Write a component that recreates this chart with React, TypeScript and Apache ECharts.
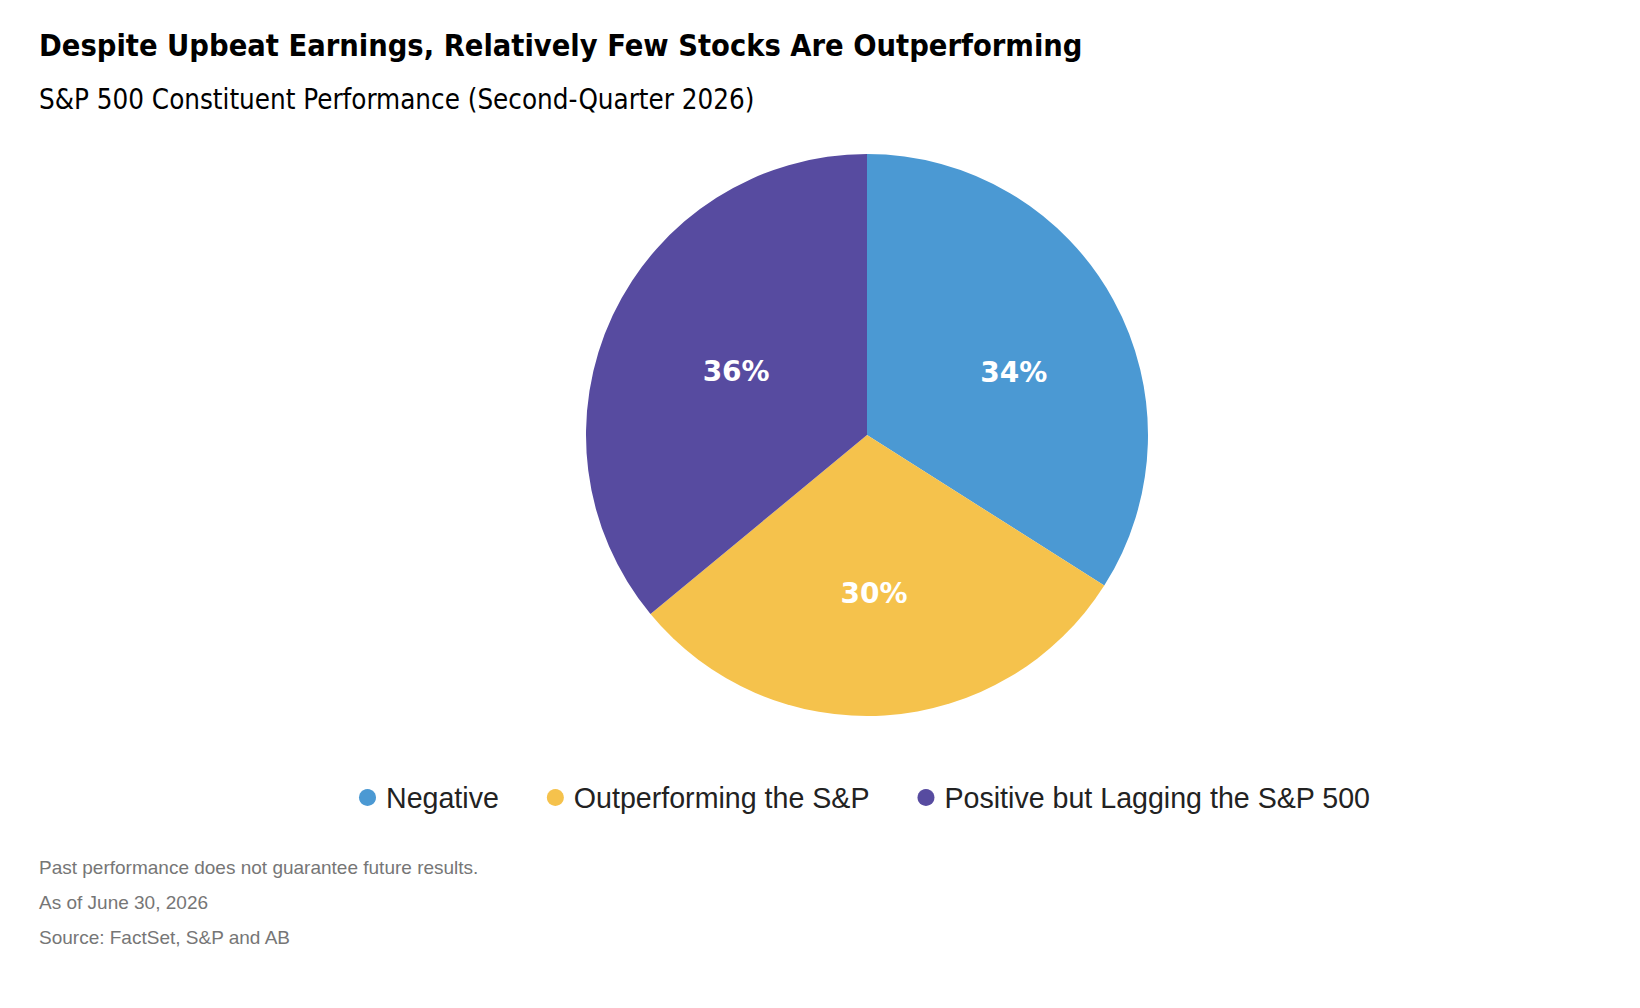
import React, { useEffect, useRef } from "react";
import * as echarts from "echarts";

const categories = ["Negative", "Outperforming the S&P", "Positive but Lagging the S&P 500"];
const values = [34, 30, 36];
const colors = ["#4B99D3", "#F5C24C", "#574BA0"];
const labelOffsets = [[21, 7], [-2, 15], [-1, -2]];
const footnotes = [
  "Past performance does not guarantee future results.",
  "As of June 30, 2026",
  "Source: FactSet, S&P and AB",
];

export default function App() {
  const ref = useRef<HTMLDivElement>(null);
  useEffect(() => {
    document.body.style.margin = "0";
    const chart = echarts.init(ref.current!, null, { renderer: "svg" });
    chart.setOption({
      animation: false,
      backgroundColor: "#ffffff",
      title: [
        {
          text: "Despite Upbeat Earnings, Relatively Few Stocks Are Outperforming",
          left: 34,
          top: 25,
          textStyle: {
            fontFamily: "DejaVu Sans Condensed",
            fontWeight: "bold",
            fontSize: 30.5,
            color: "#000000",
          },
        },
        {
          text: "S&P 500 Constituent Performance (Second-Quarter 2026)",
          left: 34,
          top: 80,
          textStyle: {
            fontFamily: "DejaVu Sans Condensed",
            fontWeight: "normal",
            fontSize: 27.5,
            color: "#000000",
          },
        },
      ],
      legend: {
        data: categories,
        left: 359,
        top: 783,
        padding: 0,
        icon: "circle",
        itemWidth: 17,
        itemHeight: 17,
        itemGap: 48,
        textStyle: {
          fontFamily: "Liberation Sans",
          fontSize: 28.6,
          color: "#222222",
          padding: [0, 0, 0, 5],
        },
      },
      graphic: footnotes.map((t, i) => ({
        type: "text",
        left: 39,
        top: 858 + i * 35,
        style: {
          text: t,
          fontFamily: "Liberation Sans",
          fontSize: 19,
          fill: "#767676",
        },
      })),
      series: [
        {
          type: "pie",
          center: [867, 435],
          radius: [0, 281],
          startAngle: 90,
          clockwise: true,
          data: categories.map((c, i) => ({
            name: c,
            value: values[i],
            itemStyle: { color: colors[i] },
            label: { offset: labelOffsets[i] },
          })),
          label: {
            position: "inside",
            formatter: "{c}%",
            color: "#ffffff",
            fontFamily: "DejaVu Sans",
            fontWeight: "bold",
            fontSize: 28,
          },
          labelLine: { show: false },
          emphasis: { disabled: true },
        },
      ],
    });
    return () => chart.dispose();
  }, []);
  return <div ref={ref} style={{ width: 1640, height: 1008 }} />;
}
